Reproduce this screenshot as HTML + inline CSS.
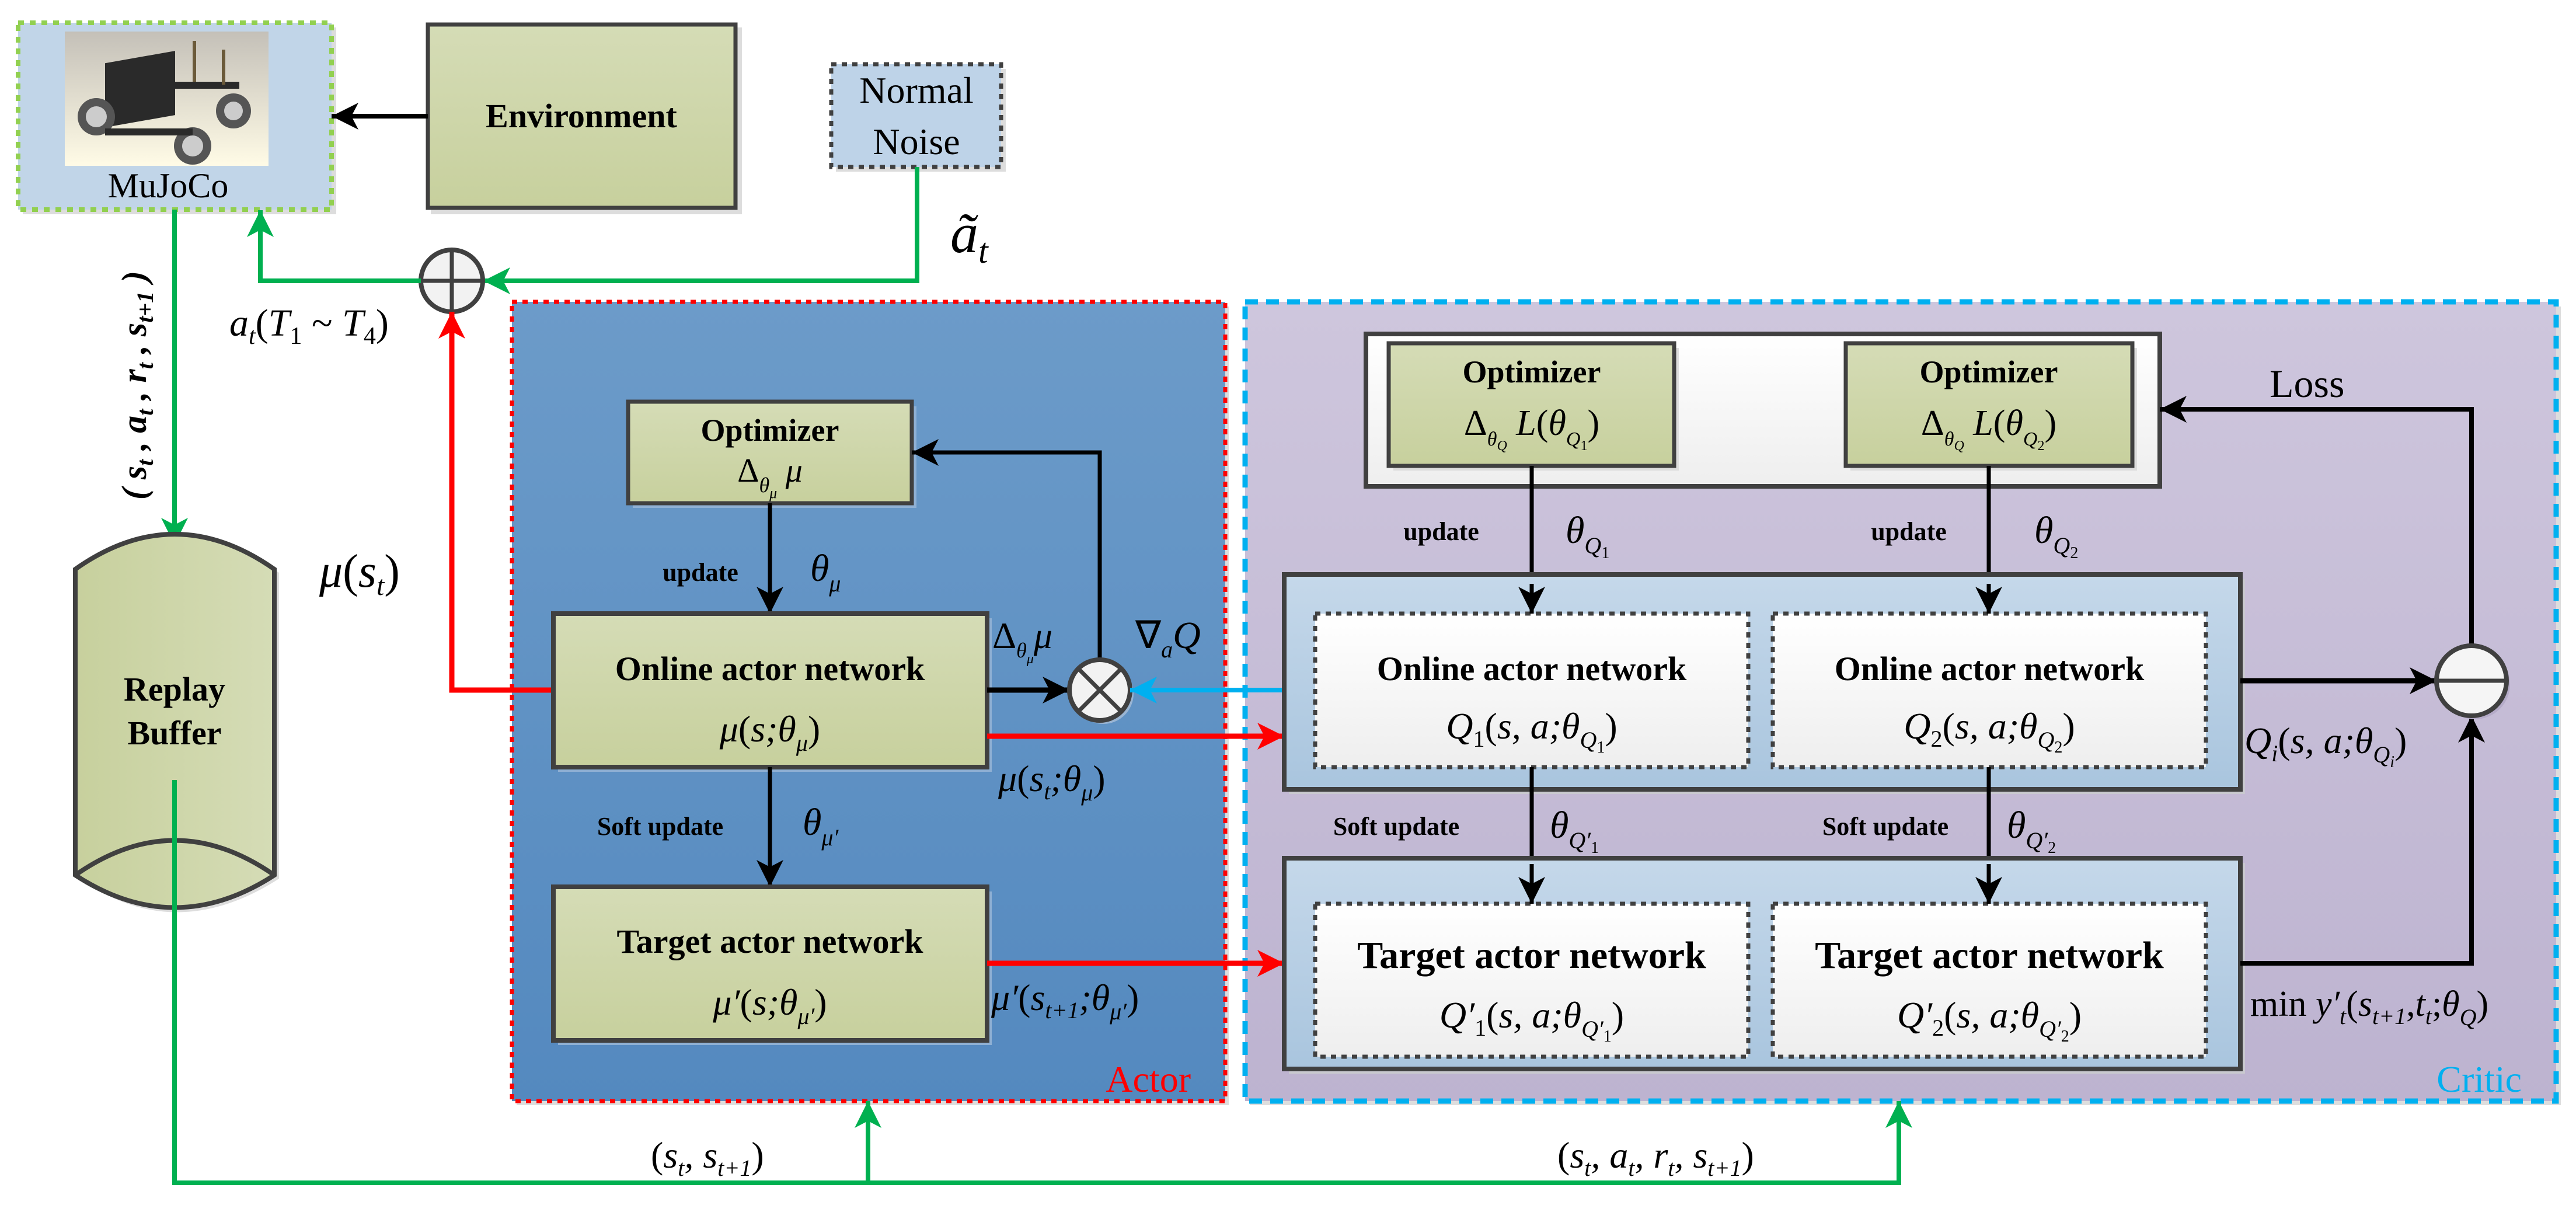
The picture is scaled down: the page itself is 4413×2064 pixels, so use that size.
<!DOCTYPE html>
<html><head><meta charset="utf-8"><style>
html,body{margin:0;padding:0;background:#fff;}
svg{display:block;}
text{font-family:"Liberation Serif",serif;}
.b{font-weight:bold;}
.i{font-style:italic;}
</style></head><body>
<svg width="4413" height="2064" viewBox="0 0 4413 2064" xmlns="http://www.w3.org/2000/svg">
<defs>
<linearGradient id="gbox" x1="0" y1="0" x2="0" y2="1"><stop offset="0" stop-color="#d5dcb6"/><stop offset="1" stop-color="#c7d09d"/></linearGradient>
<linearGradient id="gcyl" x1="0" y1="0" x2="1" y2="0"><stop offset="0" stop-color="#c7d09d"/><stop offset="1" stop-color="#d5dcb6"/></linearGradient>
<linearGradient id="lblue" x1="0" y1="0" x2="0" y2="1"><stop offset="0" stop-color="#c5d8ea"/><stop offset="1" stop-color="#a9c5de"/></linearGradient>
<linearGradient id="actor" x1="0" y1="0" x2="0" y2="1"><stop offset="0" stop-color="#6c9bc9"/><stop offset="1" stop-color="#5489bf"/></linearGradient>
<linearGradient id="critic" x1="0" y1="0" x2="0" y2="1"><stop offset="0" stop-color="#cec6dd"/><stop offset="1" stop-color="#bdb3d0"/></linearGradient>
<linearGradient id="white" x1="0" y1="0" x2="0" y2="1"><stop offset="0" stop-color="#ffffff"/><stop offset="1" stop-color="#eeeeee"/></linearGradient>
<linearGradient id="car" x1="0" y1="0" x2="0" y2="1"><stop offset="0" stop-color="#c4c0b8"/><stop offset="1" stop-color="#fffbe6"/></linearGradient>
<marker id="ak" markerUnits="userSpaceOnUse" markerWidth="52" markerHeight="52" refX="46" refY="26" orient="auto"><path d="M0,3 L46,26 L0,49 L12,26 Z" fill="#000"/></marker>
<marker id="ag" markerUnits="userSpaceOnUse" markerWidth="52" markerHeight="52" refX="46" refY="26" orient="auto"><path d="M0,3 L46,26 L0,49 L12,26 Z" fill="#00b050"/></marker>
<marker id="ar" markerUnits="userSpaceOnUse" markerWidth="52" markerHeight="52" refX="46" refY="26" orient="auto"><path d="M0,3 L46,26 L0,49 L12,26 Z" fill="#ff0000"/></marker>
<marker id="ac" markerUnits="userSpaceOnUse" markerWidth="52" markerHeight="52" refX="46" refY="26" orient="auto"><path d="M0,3 L46,26 L0,49 L12,26 Z" fill="#00b0f0"/></marker>
</defs>

<!-- Actor region -->
<rect x="885" y="525" width="1220" height="1368" fill="#dddddd"/>
<rect x="877" y="517" width="1222" height="1369" fill="url(#actor)" stroke="#ff0000" stroke-width="7" stroke-dasharray="9,9"/>
<text x="2040" y="1870" font-size="64" fill="#ff0000" text-anchor="end">Actor</text>

<!-- Critic region -->
<rect x="2141" y="525" width="2246" height="1368" fill="#dddddd"/>
<rect x="2133" y="517" width="2246" height="1369" fill="url(#critic)" stroke="#00b0f0" stroke-width="9" stroke-dasharray="22,14"/>
<text x="4320" y="1870" font-size="64" fill="#00b0f0" text-anchor="end">Critic</text>

<!-- MuJoCo -->
<rect x="39" y="47" width="537" height="320" fill="#dddddd"/>
<rect x="31" y="39" width="537" height="320" fill="#c1d5e8" stroke="#92d050" stroke-width="8" stroke-dasharray="10,10"/>
<rect x="111" y="54" width="349" height="230" fill="url(#car)"/>
<g fill="#2a2a2a">
<rect x="180" y="100" width="120" height="110" transform="skewY(-10) translate(0,40)"/>
<circle cx="165" cy="200" r="32" fill="#555"/><circle cx="165" cy="200" r="18" fill="#ccc"/>
<circle cx="330" cy="250" r="32" fill="#555"/><circle cx="330" cy="250" r="18" fill="#ccc"/>
<circle cx="400" cy="190" r="30" fill="#555"/><circle cx="400" cy="190" r="16" fill="#ccc"/>
<rect x="300" y="140" width="110" height="12"/><rect x="180" y="220" width="150" height="12"/>
<rect x="330" y="70" width="6" height="70" fill="#6b5a3a"/><rect x="380" y="85" width="6" height="60" fill="#6b5a3a"/>
</g>
<text x="288" y="338" font-size="60" text-anchor="middle">MuJoCo</text>

<!-- Environment -->
<rect x="738" y="47" width="533" height="320" fill="#dddddd"/>
<rect x="733" y="42" width="527" height="314" fill="url(#gbox)" stroke="#404040" stroke-width="7"/>
<text x="996" y="218" font-size="58" class="b" text-anchor="middle">Environment</text>
<line x1="733" y1="199" x2="568" y2="199" stroke="#000" stroke-width="8" marker-end="url(#ak)"/>

<!-- Normal Noise -->
<rect x="1432" y="118" width="291" height="176" fill="#dddddd"/>
<rect x="1424" y="110" width="291" height="176" fill="#bed3e8" stroke="#404040" stroke-width="7" stroke-dasharray="9,9"/>
<text x="1570" y="176" font-size="64" text-anchor="middle">Normal</text>
<text x="1570" y="264" font-size="64" text-anchor="middle">Noise</text>

<!-- Noise to oplus -->
<polyline points="1571,286 1571,481 828,481" fill="none" stroke="#00b050" stroke-width="8" marker-end="url(#ag)"/>
<text x="1628" y="432" font-size="96" class="i">ã<tspan font-size="60" dy="18">t</tspan></text>
<!-- oplus -->
<circle cx="774" cy="481" r="53" fill="#f2f2f2" stroke="#404040" stroke-width="8"/>
<line x1="721" y1="481" x2="827" y2="481" stroke="#404040" stroke-width="7"/>
<line x1="774" y1="428" x2="774" y2="534" stroke="#404040" stroke-width="7"/>
<polyline points="721,481 446,481 446,360" fill="none" stroke="#00b050" stroke-width="8" marker-end="url(#ag)"/>
<text x="393" y="575" font-size="66" class="i">a<tspan font-size="42" dy="14">t</tspan><tspan dy="-14" font-style="normal">(</tspan>T<tspan font-size="42" dy="14" font-style="normal">1</tspan><tspan dy="-14" font-style="normal"> ~ </tspan>T<tspan font-size="42" dy="14" font-style="normal">4</tspan><tspan dy="-14" font-style="normal">)</tspan></text>

<!-- MuJoCo to buffer -->
<line x1="299" y1="359" x2="299" y2="933" stroke="#00b050" stroke-width="8" marker-end="url(#ag)"/>
<text transform="translate(250,660) rotate(-90)" font-size="60" class="b i" text-anchor="middle">( s<tspan font-size="40" dy="12">t</tspan><tspan dy="-12"> , a</tspan><tspan font-size="40" dy="12">t</tspan><tspan dy="-12"> , r</tspan><tspan font-size="40" dy="12">t</tspan><tspan dy="-12"> , s</tspan><tspan font-size="40" dy="12">t+1</tspan><tspan dy="-12"> )</tspan></text>

<!-- Replay buffer -->
<path d="M137,981 Q299,860 478,981 L478,1505 Q299,1620 137,1505 Z" fill="#dddddd"/>
<path d="M129,975 Q299,855 470,975 L470,1499 Q299,1610 129,1499 Z" fill="url(#gcyl)" stroke="#404040" stroke-width="8"/>
<path d="M129,1499 Q299,1380 470,1499" fill="none" stroke="#404040" stroke-width="8"/>
<text x="299" y="1200" font-size="58" class="b" text-anchor="middle">Replay</text>
<text x="299" y="1275" font-size="58" class="b" text-anchor="middle">Buffer</text>

<text x="547" y="1005" font-size="80" class="i">μ<tspan font-style="normal">(</tspan>s<tspan font-size="48" dy="14">t</tspan><tspan dy="-14" font-style="normal">)</tspan></text>

<!-- red to oplus -->
<polyline points="951,1182 774,1182 774,534" fill="none" stroke="#ff0000" stroke-width="9" marker-end="url(#ar)"/>

<!-- Actor optimizer -->
<rect x="1084" y="696" width="486" height="174" fill="#8fb0d4"/>
<rect x="1076" y="688" width="486" height="174" fill="url(#gbox)" stroke="#404040" stroke-width="7"/>
<text x="1319" y="755" font-size="54" class="b" text-anchor="middle">Optimizer</text>
<text x="1319" y="825" font-size="58" text-anchor="middle">Δ<tspan font-size="36" dy="18" class="i">θ</tspan><tspan font-size="26" dy="10" class="i">μ</tspan><tspan dy="-28" class="i"> μ</tspan></text>
<line x1="1319" y1="862" x2="1319" y2="1051" stroke="#000" stroke-width="7" marker-end="url(#ak)"/>
<text x="1200" y="995" font-size="44" class="b" text-anchor="middle">update</text>
<text x="1388" y="995" font-size="66" class="i">θ<tspan font-size="40" dy="18">μ</tspan></text>

<!-- Online actor -->
<rect x="956" y="1059" width="743" height="263" fill="#8fb0d4"/>
<rect x="948" y="1051" width="743" height="263" fill="url(#gbox)" stroke="#404040" stroke-width="8"/>
<text x="1319" y="1165" font-size="58" class="b" text-anchor="middle">Online actor network</text>
<text x="1319" y="1270" font-size="64" class="i" text-anchor="middle">μ<tspan font-style="normal">(</tspan>s;θ<tspan font-size="40" dy="16">μ</tspan><tspan dy="-16" font-style="normal">)</tspan></text>

<!-- otimes -->
<line x1="1691" y1="1182" x2="1832" y2="1182" stroke="#000" stroke-width="9" marker-end="url(#ak)"/>
<polyline points="1884,1130 1884,775 1562,775" fill="none" stroke="#000" stroke-width="7" marker-end="url(#ak)"/>
<circle cx="1890" cy="1188" r="52" fill="#9ab5d3"/>
<circle cx="1884" cy="1182" r="52" fill="#f2f2f2" stroke="#404040" stroke-width="8"/>
<line x1="1847" y1="1145" x2="1921" y2="1219" stroke="#404040" stroke-width="7"/>
<line x1="1921" y1="1145" x2="1847" y2="1219" stroke="#404040" stroke-width="7"/>
<text x="1700" y="1110" font-size="64">Δ<tspan font-size="36" dy="16" class="i">θ</tspan><tspan font-size="24" dy="10" class="i">μ</tspan><tspan dy="-26" class="i">μ</tspan></text>
<text x="1945" y="1110" font-size="66">∇<tspan font-size="40" dy="16" class="i">a</tspan><tspan dy="-16" class="i">Q</tspan></text>
<line x1="2253" y1="1182" x2="1936" y2="1182" stroke="#00b0f0" stroke-width="8" marker-end="url(#ac)"/>

<!-- red to critic -->
<line x1="1691" y1="1261" x2="2200" y2="1261" stroke="#ff0000" stroke-width="9" marker-end="url(#ar)"/>
<text x="1710" y="1355" font-size="64" class="i">μ<tspan font-style="normal">(</tspan>s<tspan font-size="40" dy="14">t</tspan><tspan dy="-14">;θ</tspan><tspan font-size="40" dy="16">μ</tspan><tspan dy="-16" font-style="normal">)</tspan></text>

<!-- soft update actor -->
<line x1="1319" y1="1314" x2="1319" y2="1519" stroke="#000" stroke-width="7" marker-end="url(#ak)"/>
<text x="1131" y="1430" font-size="44" class="b" text-anchor="middle">Soft update</text>
<text x="1375" y="1430" font-size="66" class="i">θ<tspan font-size="40" dy="18">μ′</tspan></text>

<!-- Target actor -->
<rect x="956" y="1527" width="743" height="263" fill="#8fb0d4"/>
<rect x="948" y="1519" width="743" height="263" fill="url(#gbox)" stroke="#404040" stroke-width="8"/>
<text x="1319" y="1632" font-size="58" class="b" text-anchor="middle">Target actor network</text>
<text x="1319" y="1738" font-size="64" class="i" text-anchor="middle">μ′<tspan font-style="normal">(</tspan>s;θ<tspan font-size="40" dy="16">μ′</tspan><tspan dy="-16" font-style="normal">)</tspan></text>
<line x1="1691" y1="1650" x2="2200" y2="1650" stroke="#ff0000" stroke-width="9" marker-end="url(#ar)"/>
<text x="1698" y="1730" font-size="64" class="i">μ′<tspan font-style="normal">(</tspan>s<tspan font-size="40" dy="14">t+1</tspan><tspan dy="-14">;θ</tspan><tspan font-size="40" dy="16">μ′</tspan><tspan dy="-16" font-style="normal">)</tspan></text>

<!-- Critic optimizer group -->
<rect x="2340" y="572" width="1360" height="261" fill="url(#white)" stroke="#404040" stroke-width="8"/>
<rect x="2387" y="596" width="489" height="210" fill="#dddddd"/>
<rect x="2379" y="588" width="489" height="210" fill="url(#gbox)" stroke="#404040" stroke-width="7"/>
<text x="2624" y="655" font-size="54" class="b" text-anchor="middle">Optimizer</text>
<text x="2624" y="745" font-size="62" text-anchor="middle">Δ<tspan font-size="34" dy="18" class="i">θ</tspan><tspan font-size="24" dy="8" class="i">Q</tspan><tspan dy="-26" class="i"> L</tspan>(<tspan class="i">θ</tspan><tspan font-size="34" dy="18" class="i">Q</tspan><tspan font-size="24" dy="8">1</tspan><tspan dy="-26">)</tspan></text>
<rect x="3170" y="596" width="491" height="210" fill="#dddddd"/>
<rect x="3162" y="588" width="491" height="210" fill="url(#gbox)" stroke="#404040" stroke-width="7"/>
<text x="3407" y="655" font-size="54" class="b" text-anchor="middle">Optimizer</text>
<text x="3407" y="745" font-size="62" text-anchor="middle">Δ<tspan font-size="34" dy="18" class="i">θ</tspan><tspan font-size="24" dy="8" class="i">Q</tspan><tspan dy="-26" class="i"> L</tspan>(<tspan class="i">θ</tspan><tspan font-size="34" dy="18" class="i">Q</tspan><tspan font-size="24" dy="8">2</tspan><tspan dy="-26">)</tspan></text>

<text x="3888" y="680" font-size="68">Loss</text>
<polyline points="4234,1106 4234,701 3700,701" fill="none" stroke="#000" stroke-width="8" marker-end="url(#ak)"/>

<line x1="2624" y1="798" x2="2624" y2="1051" stroke="#000" stroke-width="7" marker-end="url(#ak)"/>
<line x1="3407" y1="798" x2="3407" y2="1051" stroke="#000" stroke-width="7" marker-end="url(#ak)"/>
<text x="2469" y="925" font-size="44" class="b" text-anchor="middle">update</text>
<text x="3270" y="925" font-size="44" class="b" text-anchor="middle">update</text>
<text x="2682" y="930" font-size="66" class="i">θ<tspan font-size="40" dy="18">Q</tspan><tspan font-size="28" dy="8" font-style="normal">1</tspan></text>
<text x="3485" y="930" font-size="66" class="i">θ<tspan font-size="40" dy="18">Q</tspan><tspan font-size="28" dy="8" font-style="normal">2</tspan></text>

<!-- Online critic outer -->
<rect x="2208" y="992" width="1638" height="368" fill="#c9c9cf"/>
<rect x="2200" y="984" width="1638" height="368" fill="url(#lblue)" stroke="#404040" stroke-width="8"/>
<rect x="2253" y="1051" width="742" height="263" fill="url(#white)" stroke="#404040" stroke-width="7" stroke-dasharray="9,9"/>
<rect x="3037" y="1051" width="742" height="263" fill="url(#white)" stroke="#404040" stroke-width="7" stroke-dasharray="9,9"/>
<line x1="2624" y1="1000" x2="2624" y2="1051" stroke="#000" stroke-width="7" marker-end="url(#ak)"/>
<line x1="3407" y1="1000" x2="3407" y2="1051" stroke="#000" stroke-width="7" marker-end="url(#ak)"/>
<text x="2624" y="1165" font-size="58" class="b" text-anchor="middle">Online actor network</text>
<text x="3408" y="1165" font-size="58" class="b" text-anchor="middle">Online actor network</text>
<text x="2624" y="1265" font-size="64" class="i" text-anchor="middle">Q<tspan font-size="40" dy="14" font-style="normal">1</tspan><tspan dy="-14" font-style="normal">(</tspan>s, a;θ<tspan font-size="40" dy="16">Q</tspan><tspan font-size="28" dy="8" font-style="normal">1</tspan><tspan dy="-24" font-style="normal">)</tspan></text>
<text x="3408" y="1265" font-size="64" class="i" text-anchor="middle">Q<tspan font-size="40" dy="14" font-style="normal">2</tspan><tspan dy="-14" font-style="normal">(</tspan>s, a;θ<tspan font-size="40" dy="16">Q</tspan><tspan font-size="28" dy="8" font-style="normal">2</tspan><tspan dy="-24" font-style="normal">)</tspan></text>

<!-- soft update critic -->
<line x1="2624" y1="1314" x2="2624" y2="1548" stroke="#000" stroke-width="7" marker-end="url(#ak)"/>
<line x1="3407" y1="1314" x2="3407" y2="1548" stroke="#000" stroke-width="7" marker-end="url(#ak)"/>
<text x="2392" y="1430" font-size="44" class="b" text-anchor="middle">Soft update</text>
<text x="3230" y="1430" font-size="44" class="b" text-anchor="middle">Soft update</text>
<text x="2655" y="1435" font-size="66" class="i">θ<tspan font-size="40" dy="18">Q′</tspan><tspan font-size="28" dy="8" font-style="normal">1</tspan></text>
<text x="3438" y="1435" font-size="66" class="i">θ<tspan font-size="40" dy="18">Q′</tspan><tspan font-size="28" dy="8" font-style="normal">2</tspan></text>

<!-- Target critic outer -->
<rect x="2208" y="1478" width="1638" height="361" fill="#c9c9cf"/>
<rect x="2200" y="1470" width="1638" height="361" fill="url(#lblue)" stroke="#404040" stroke-width="8"/>
<rect x="2253" y="1548" width="742" height="262" fill="url(#white)" stroke="#404040" stroke-width="7" stroke-dasharray="9,9"/>
<rect x="3037" y="1548" width="742" height="262" fill="url(#white)" stroke="#404040" stroke-width="7" stroke-dasharray="9,9"/>
<line x1="2624" y1="1480" x2="2624" y2="1548" stroke="#000" stroke-width="7" marker-end="url(#ak)"/>
<line x1="3407" y1="1480" x2="3407" y2="1548" stroke="#000" stroke-width="7" marker-end="url(#ak)"/>
<text x="2624" y="1658" font-size="66" class="b" text-anchor="middle">Target actor network</text>
<text x="3408" y="1658" font-size="66" class="b" text-anchor="middle">Target actor network</text>
<text x="2624" y="1760" font-size="64" class="i" text-anchor="middle">Q′<tspan font-size="40" dy="14" font-style="normal">1</tspan><tspan dy="-14" font-style="normal">(</tspan>s, a;θ<tspan font-size="40" dy="16">Q′</tspan><tspan font-size="28" dy="8" font-style="normal">1</tspan><tspan dy="-24" font-style="normal">)</tspan></text>
<text x="3408" y="1760" font-size="64" class="i" text-anchor="middle">Q′<tspan font-size="40" dy="14" font-style="normal">2</tspan><tspan dy="-14" font-style="normal">(</tspan>s, a;θ<tspan font-size="40" dy="16">Q′</tspan><tspan font-size="28" dy="8" font-style="normal">2</tspan><tspan dy="-24" font-style="normal">)</tspan></text>

<!-- minus circle -->
<line x1="3838" y1="1166" x2="4174" y2="1166" stroke="#000" stroke-width="9" marker-end="url(#ak)"/>
<polyline points="3838,1650 4234,1650 4234,1226" fill="none" stroke="#000" stroke-width="8" marker-end="url(#ak)"/>
<circle cx="4240" cy="1172" r="60" fill="#b5abc8"/>
<circle cx="4234" cy="1166" r="60" fill="#f5f5f5" stroke="#404040" stroke-width="8"/>
<line x1="4174" y1="1166" x2="4294" y2="1166" stroke="#404040" stroke-width="7"/>
<text x="3845" y="1290" font-size="64" class="i">Q<tspan font-size="40" dy="14">i</tspan><tspan dy="-14" font-style="normal">(</tspan>s, a;θ<tspan font-size="40" dy="16">Q</tspan><tspan font-size="28" dy="8">i</tspan><tspan dy="-24" font-style="normal">)</tspan></text>
<text x="3855" y="1740" font-size="62"><tspan>min </tspan><tspan class="i">y′</tspan><tspan font-size="40" dy="14" class="i">t</tspan><tspan dy="-14">(</tspan><tspan class="i">s</tspan><tspan font-size="40" dy="14" class="i">t+1</tspan><tspan dy="-14">,</tspan><tspan class="i">t</tspan><tspan font-size="40" dy="14" class="i">t</tspan><tspan dy="-14">;</tspan><tspan class="i">θ</tspan><tspan font-size="40" dy="16" class="i">Q</tspan><tspan dy="-16">)</tspan></text>

<!-- bottom green -->
<polyline points="299,1336 299,2026 3253,2026 3253,1886" fill="none" stroke="#00b050" stroke-width="8" marker-end="url(#ag)"/>
<line x1="1487" y1="2026" x2="1487" y2="1886" stroke="#00b050" stroke-width="8" marker-end="url(#ag)"/>
<text x="1115" y="2000" font-size="64" class="i"><tspan font-style="normal">(</tspan>s<tspan font-size="40" dy="14">t</tspan><tspan dy="-14">, s</tspan><tspan font-size="40" dy="14">t+1</tspan><tspan dy="-14" font-style="normal">)</tspan></text>
<text x="2668" y="2000" font-size="64" class="i"><tspan font-style="normal">(</tspan>s<tspan font-size="40" dy="14">t</tspan><tspan dy="-14">, a</tspan><tspan font-size="40" dy="14">t</tspan><tspan dy="-14">, r</tspan><tspan font-size="40" dy="14">t</tspan><tspan dy="-14">, s</tspan><tspan font-size="40" dy="14">t+1</tspan><tspan dy="-14" font-style="normal">)</tspan></text>
</svg>
</body></html>
